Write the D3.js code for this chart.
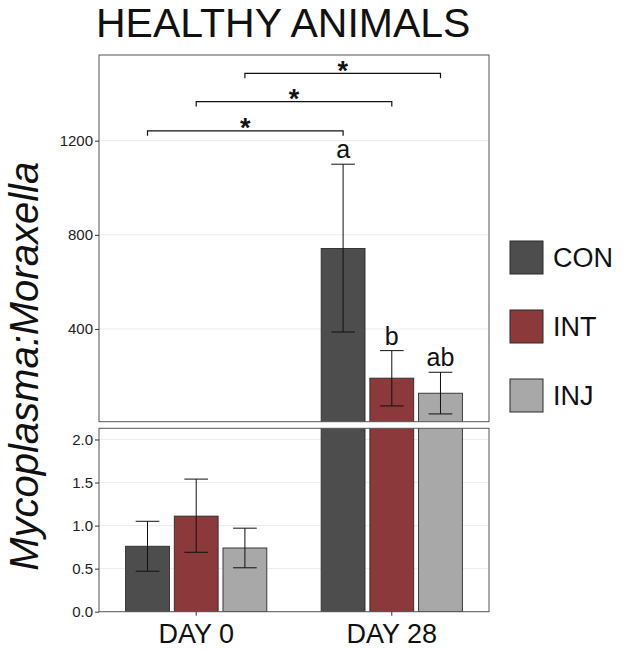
<!DOCTYPE html>
<html>
<head>
<meta charset="utf-8">
<script src="https://cdn.jsdelivr.net/npm/d3@7"></script>
<style>
  html, body { margin: 0; padding: 0; background: #fff; }
  svg { display: block; font-family: "Liberation Sans", Arial, sans-serif; }
</style>
</head>
<body>
<svg id="chart" width="624" height="651"></svg>
<script>
// ---- data ----
const groups = ["DAY 0", "DAY 28"];
const series = ["CON", "INT", "INJ"];
const meanCON = [0.76, 742];
const meanINT = [1.11, 191];
const meanINJ = [0.74, 127];
const lowCON = [0.47, 387];
const lowINT = [0.69, 73];
const lowINJ = [0.51, 39];
const highCON = [1.05, 1100];
const highINT = [1.54, 308];
const highINJ = [0.97, 216];
const lettersDay28 = ["a", "b", "ab"];
const topTicks = [400, 800, 1200];
const bottomTicks = [0.0, 0.5, 1.0, 1.5, 2.0];
const brackets = [
  { series: "CON", y: 1242, label: "*" },
  { series: "INT", y: 1366, label: "*" },
  { series: "INJ", y: 1486, label: "*" }
];
const colors = { CON: "#4d4d4d", INT: "#8b393a", INJ: "#a8a8a8" };

const means = { CON: meanCON, INT: meanINT, INJ: meanINJ };
const lows = { CON: lowCON, INT: lowINT, INJ: lowINJ };
const highs = { CON: highCON, INT: highINT, INJ: highINJ };

const rows = [];
groups.forEach((g, gi) => series.forEach((s, si) => rows.push({
  group: g, series: s, mean: means[s][gi], low: lows[s][gi], high: highs[s][gi],
  letter: gi === 1 ? lettersDay28[si] : ""
})));

// ---- layout ----
const svg = d3.select("#chart");
const left = 99, right = 489;
const topPanel = { y0: 55, y1: 421.7 };
const botPanel = { y0: 428.3, y1: 611.7 };

const x0 = d3.scaleBand().domain(groups).range([left, right]).paddingInner(0.278).paddingOuter(0.136);
const x1 = d3.scaleBand().domain(series).range([0, x0.bandwidth()]).paddingInner(0.1);
const yTop = d3.scaleLinear().domain([6, 1564]).range([topPanel.y1, topPanel.y0]);
const yBot = d3.scaleLinear().domain([0, 2.13]).range([botPanel.y1, botPanel.y0]);

const defs = svg.append("defs");
function drawPanel(id, panel, y, ticks, fmt) {
  defs.append("clipPath").attr("id", id).append("rect")
    .attr("x", left).attr("y", panel.y0).attr("width", right - left).attr("height", panel.y1 - panel.y0);
  const g = svg.append("g");
  // gridlines
  g.selectAll("line.grid").data(ticks).join("line")
    .attr("x1", left).attr("x2", right)
    .attr("y1", d => y(d)).attr("y2", d => y(d))
    .attr("stroke", "#ececec").attr("stroke-width", 1);
  const c = g.append("g").attr("clip-path", `url(#${id})`);
  // bars
  c.selectAll("rect.bar").data(rows).join("rect")
    .attr("x", d => x0(d.group) + x1(d.series))
    .attr("width", x1.bandwidth())
    .attr("y", d => y(d.mean))
    .attr("height", d => Math.max(0, y(0) - y(d.mean)))
    .attr("fill", d => colors[d.series])
    .attr("stroke", "#2b2b2b").attr("stroke-width", 0.9);
  // error bars
  const cap = x1.bandwidth() * 0.27;
  const eb = c.selectAll("g.eb").data(rows).join("g")
    .attr("transform", d => `translate(${x0(d.group) + x1(d.series) + x1.bandwidth() / 2},0)`);
  eb.append("line").attr("x1", 0).attr("x2", 0)
    .attr("y1", d => y(d.low)).attr("y2", d => y(d.high))
    .attr("stroke", "#111").attr("stroke-width", 1);
  eb.append("line").attr("x1", -cap).attr("x2", cap)
    .attr("y1", d => y(d.low)).attr("y2", d => y(d.low))
    .attr("stroke", "#111").attr("stroke-width", 1);
  eb.append("line").attr("x1", -cap).attr("x2", cap)
    .attr("y1", d => y(d.high)).attr("y2", d => y(d.high))
    .attr("stroke", "#111").attr("stroke-width", 1);
  // border
  g.append("rect").attr("x", left).attr("y", panel.y0)
    .attr("width", right - left).attr("height", panel.y1 - panel.y0)
    .attr("fill", "none").attr("stroke", "#555").attr("stroke-width", 1);
  // axis
  const ax = d3.axisLeft(y).tickValues(ticks).tickFormat(fmt).tickSize(4).tickPadding(2);
  const axg = svg.append("g").attr("transform", `translate(${left},0)`).call(ax);
  axg.select(".domain").remove();
  axg.selectAll(".tick line").attr("stroke", "#333");
  axg.selectAll(".tick text").attr("fill", "#222").style("font-size", "15px")
    .style("font-family", "'Liberation Sans', Arial, sans-serif");
  return c;
}

const topG = drawPanel("clipTop", topPanel, yTop, topTicks, d3.format("d"));
drawPanel("clipBot", botPanel, yBot, bottomTicks, d3.format(".1f"));

// significance letters (top panel)
svg.selectAll("text.letter").data(rows.filter(d => d.letter)).join("text")
  .attr("x", d => x0(d.group) + x1(d.series) + x1.bandwidth() / 2)
  .attr("y", d => yTop(d.high) - 6)
  .attr("text-anchor", "middle")
  .style("font-size", "25px").attr("fill", "#111")
  .text(d => d.letter);

// brackets
const bx = (g, s) => x0(g) + x1(s) + x1.bandwidth() / 2;
const bg = svg.selectAll("g.br").data(brackets).join("g");
bg.append("path")
  .attr("d", d => {
    const xa = bx(groups[0], d.series), xb = bx(groups[1], d.series), yy = yTop(d.y);
    return `M${xa},${yy + 5}V${yy}H${xb}V${yy + 5}`;
  })
  .attr("fill", "none").attr("stroke", "#111").attr("stroke-width", 1.2);
bg.append("text")
  .attr("x", d => (bx(groups[0], d.series) + bx(groups[1], d.series)) / 2)
  .attr("y", d => yTop(d.y) + 6.5)
  .attr("text-anchor", "middle")
  .style("font-size", "27px").style("font-weight", "bold").attr("fill", "#111")
  .text(d => d.label);

// x axis labels
const xa = d3.axisBottom(x0).tickSize(4).tickPadding(2);
const xg = svg.append("g").attr("transform", `translate(0,${botPanel.y1})`).call(xa);
xg.select(".domain").remove();
xg.selectAll(".tick line").attr("stroke", "#333");
xg.selectAll(".tick text").attr("fill", "#111").style("font-size", "27px")
  .style("font-family", "'Liberation Sans', Arial, sans-serif")
  .attr("dy", "0.95em");

// title
svg.append("text").attr("x", 96).attr("y", 37)
  .style("font-size", "41px").attr("fill", "#111").text("HEALTHY ANIMALS");

// y label
svg.append("text")
  .attr("transform", `translate(38,${(topPanel.y0 + botPanel.y1) / 2 + 33}) rotate(-90)`)
  .attr("text-anchor", "middle")
  .style("font-size", "40px").style("font-style", "italic").attr("fill", "#111")
  .text("Mycoplasma:Moraxella");

// legend
const leg = svg.selectAll("g.leg").data(series).join("g")
  .attr("transform", (d, i) => `translate(510,${241 + i * 69})`);
leg.append("rect").attr("width", 33).attr("height", 33)
  .attr("fill", d => colors[d]).attr("stroke", "#2b2b2b").attr("stroke-width", 1);
leg.append("text").attr("x", 43).attr("y", 16.5 + 9.5)
  .style("font-size", "27px").attr("fill", "#111").text(d => d);
</script>
</body>
</html>
